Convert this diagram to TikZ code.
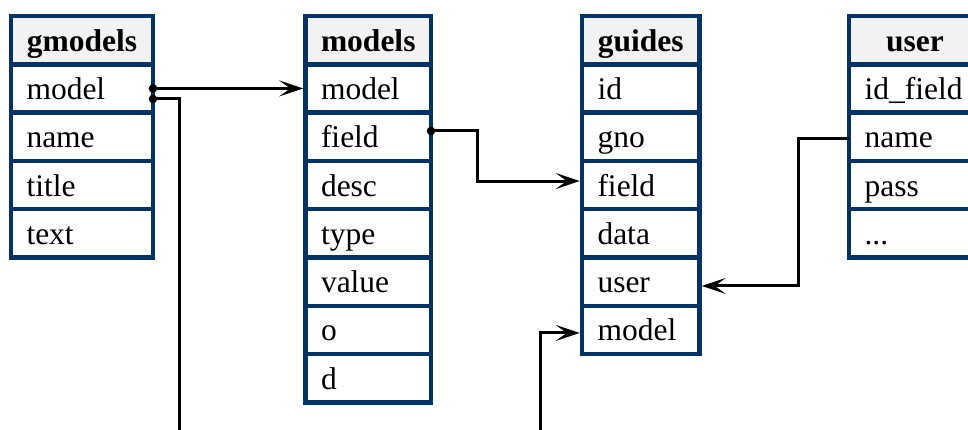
\documentclass[tikz,border=0pt]{standalone}
\usepackage{fontspec}
\setmainfont{Liberation Serif}
\usetikzlibrary{arrows.meta,calc}
\definecolor{navy}{RGB}{0,51,102}
\definecolor{headgray}{RGB}{242,242,242}
\newcommand\cellfont{\fontsize{31.5}{36}\selectfont}
\newcommand\threedots{...}
\begin{document}
\begin{tikzpicture}[x=1pt,y=-1pt,
  cell/.style={draw=navy, line width=4.5pt, minimum height=48.3pt,
    inner ysep=0pt, outer sep=0pt, text height=25pt, text depth=3pt, font=\cellfont},
  head/.style={cell, fill=headgray, inner xsep=0pt, font=\cellfont\bfseries},
  field/.style={cell, inner xsep=15.5pt, align=left},
  wire/.style={draw=black, line width=3pt},
  link/.style={wire, -{Stealth[length=24pt,width=16pt,inset=11pt]}},
  dot/.style={fill=black}]
\useasboundingbox (0,0) rectangle (968,430);
\clip (0,0) rectangle (968,430);

% table gmodels
\node[head, minimum width=142pt] (gm-head) at (82,40.15) {gmodels};
\foreach \nm [count=\i] in {model,name,title,text}
  \node[field, minimum width=142pt, text width=111pt] (gm-\nm) at (82,{16+48.3*(\i+0.5)}) {\nm};

% table models
\node[head, minimum width=125.5pt] (mo-head) at (368.25,40.15) {models};
\foreach \nm [count=\i] in {model,field,desc,type,value,o,d}
  \node[field, minimum width=125.5pt, text width=94.5pt] (mo-\nm) at (368.25,{16+48.3*(\i+0.5)}) {\nm};

% table guides
\node[head, minimum width=117.5pt] (gu-head) at (640.75,40.15) {guides};
\foreach \nm [count=\i] in {id,gno,field,data,user,model}
  \node[field, minimum width=117.5pt, text width=86.5pt] (gu-\nm) at (640.75,{16+48.3*(\i+0.5)}) {\nm};

% table user
\node[head, minimum width=132pt] (us-head) at (915,40.15) {user};
\foreach \nm/\txt [count=\i] in {idfield/id\_field,name/name,pass/pass,more/\threedots}
  \node[field, minimum width=132pt, text width=101pt] (us-\nm) at (915,{16+48.3*(\i+0.5)}) {\txt};

% loose ends leaving the bottom edge
\coordinate (gm-exit) at (179,445);
\coordinate (gu-entry) at (540,445);

% relations
\draw[link] (gm-model.east) -- ($(mo-model.west)+(-2.25,0)$);
\fill[dot] (gm-model.east) circle (4.3pt);

\draw[wire] ($(gm-model.east)+(0,10.5)$) -| (gm-exit);
\fill[dot] ($(gm-model.east)+(0,10.5)$) circle (4.3pt);

\draw[link] ($(mo-field.east)+(0,-5.75)$) -- ++(46.5,0) |- ($(gu-field.west)+(-2.25,-4)$);
\fill[dot] ($(mo-field.east)+(0,-5.75)$) circle (4.3pt);

\draw[link] ($(us-name.west)+(0,2)$) -- ++(-51,0) |- ($(gu-user.east)+(2.25,4.3)$);

\draw[link] (gu-entry) |- ($(gu-model.west)+(-2.25,3)$);
\end{tikzpicture}
\end{document}
